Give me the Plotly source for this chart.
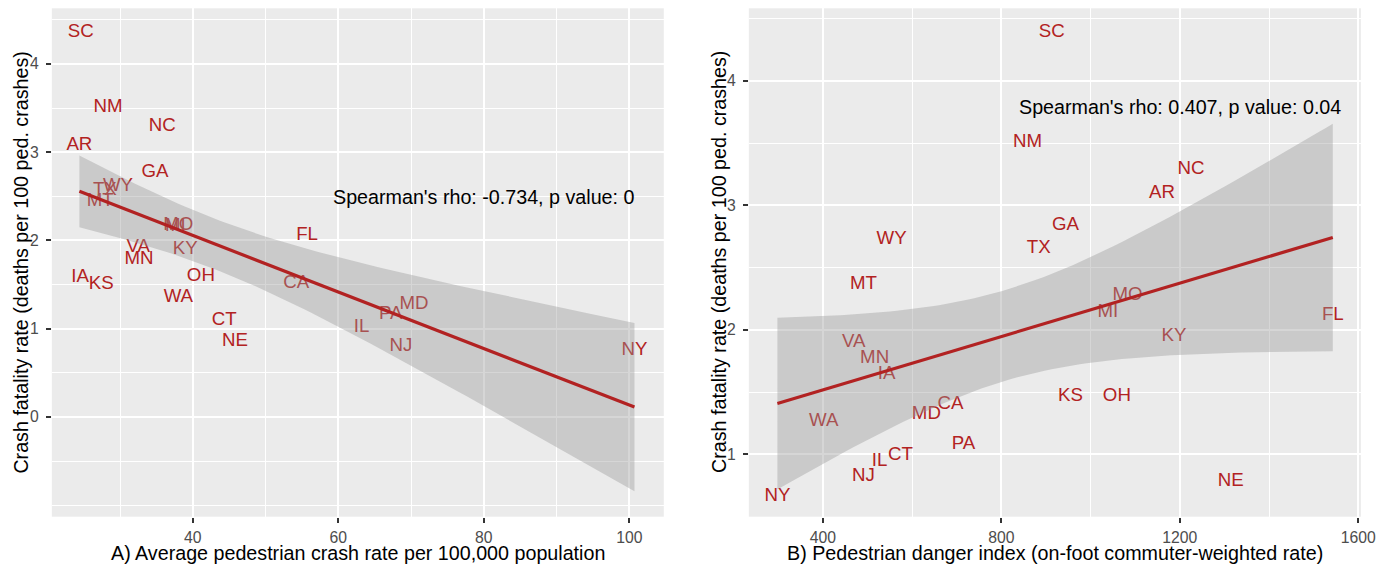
import numpy as np
import plotly.graph_objects as go

# ---------------- data ----------------
states = ["SC", "NM", "NC", "AR", "GA", "WY", "TX", "MT", "MO", "MI",
          "VA", "KY", "MN", "FL", "IA", "KS", "OH", "CA", "WA", "CT",
          "NE", "MD", "PA", "IL", "NJ", "NY"]

# Panel A: average pedestrian crash rate per 100,000 population
crash_rate = [24.6, 28.35, 35.8, 24.4, 34.8, 29.7, 27.9, 27.25, 38.0, 37.6,
              32.5, 38.95, 32.6, 55.7, 24.5, 27.4, 41.1, 54.2, 38.0, 44.3,
              45.8, 70.4, 67.2, 63.2, 68.6, 100.7]
fatality_a = [4.36, 3.505, 3.297, 3.074, 2.768, 2.618, 2.564, 2.44, 2.17, 2.155,
              1.923, 1.90, 1.787, 2.062, 1.583, 1.504, 1.59, 1.51, 1.36, 1.091,
              0.861, 1.28, 1.167, 1.012, 0.797, 0.751]

# Panel B: pedestrian danger index (on-foot commuter-weighted rate)
danger_index = [913, 859, 1225, 1160, 944, 554, 884, 491, 1083, 1039,
                469, 1187, 516, 1543, 543, 955, 1059, 686, 402, 574,
                1314, 632, 715, 527, 491, 298]
fatality_b = [4.391, 3.504, 3.290, 3.098, 2.840, 2.728, 2.656, 2.369, 2.275, 2.138,
              1.897, 1.951, 1.768, 2.120, 1.643, 1.463, 1.469, 1.402, 1.268, 0.989,
              0.785, 1.321, 1.083, 0.941, 0.820, 0.665]

ticks_a_x = [40, 60, 80, 100]
ticks_a_y = [0, 1, 2, 3, 4]
ticks_b_x = [400, 800, 1200, 1600]
ticks_b_y = [1, 2, 3, 4]

label_a = "Spearman's rho: -0.734, p value: 0"
label_b = "Spearman's rho: 0.407, p value: 0.04"

x_title_a = "A) Average pedestrian crash rate per 100,000 population"
x_title_b = "B) Pedestrian danger index (on-foot commuter-weighted rate)"
y_title = "Crash fatality rate (deaths per 100 ped. crashes)"

T_CRIT = 2.0639  # t quantile 0.975, df = 24


def lm_band(x, y, n_grid=80):
    x = np.asarray(x, float)
    y = np.asarray(y, float)
    n = len(x)
    slope, intercept = np.polyfit(x, y, 1)
    resid = y - (slope * x + intercept)
    s = np.sqrt(np.sum(resid ** 2) / (n - 2))
    sxx = np.sum((x - x.mean()) ** 2)
    grid = np.linspace(x.min(), x.max(), n_grid)
    pred = slope * grid + intercept
    se = s * np.sqrt(1.0 / n + (grid - x.mean()) ** 2 / sxx)
    return grid, pred, pred - T_CRIT * se, pred + T_CRIT * se


RED = "#B22222"
FONT = "Liberation Sans, Arial, sans-serif"
OFF = 8                 # default body margin of the page
SX = 1406.0 / 1390.0    # horizontal compensation observed in the capture
W, H = 1390, 560
FS = 1.01               # font compensation

fig = go.Figure()

panels = [
    (crash_rate, fatality_a, "x", "y"),
    (danger_index, fatality_b, "x2", "y2"),
]
for xs, ys, xa, ya in panels:
    fig.add_trace(go.Scatter(
        x=xs, y=ys, text=states, mode="text", xaxis=xa, yaxis=ya,
        textfont=dict(color=RED, size=18.5 * FS, family=FONT),
        textposition="middle center", hoverinfo="skip", showlegend=False))
    g, p, lo, hi = lm_band(xs, ys)
    fig.add_trace(go.Scatter(
        x=np.concatenate([g, g[::-1]]), y=np.concatenate([hi, lo[::-1]]),
        mode="lines", fill="toself", fillcolor="rgba(153,153,153,0.4)",
        line=dict(width=0), xaxis=xa, yaxis=ya, hoverinfo="skip", showlegend=False))
    fig.add_trace(go.Scatter(
        x=g, y=p, mode="lines", line=dict(color=RED, width=3.2),
        xaxis=xa, yaxis=ya, hoverinfo="skip", showlegend=False))


def px_x(v):
    return (v * SX - OFF) / W


def px_y(v):
    return (OFF + H - v) / H


axis_common = dict(
    showgrid=True, gridcolor="white", gridwidth=2, zeroline=False,
    showline=False, ticks="outside", ticklen=5, tickwidth=1.5, tickcolor="#333333",
    tickfont=dict(size=15.6 * FS, color="#4D4D4D", family=FONT),
    tickmode="array",
)
x_common = dict(ticklabelstandoff=1, **axis_common)
y_common = dict(ticklabelstandoff=4, **axis_common)


def minor(d):
    return dict(tickmode="linear", tick0=0, dtick=d, showgrid=True,
                gridcolor="white", gridwidth=1, ticks="")


y_dom = [px_y(516.7), px_y(8.3)]

fig.update_layout(
    width=W, height=H,
    margin=dict(l=0, r=0, t=0, b=0),
    paper_bgcolor="white", plot_bgcolor="#EBEBEB",
    xaxis=dict(domain=[px_x(51.7), px_x(663.3)], range=[20.61, 104.73],
               tickvals=ticks_a_x, anchor="y", minor=minor(10), **x_common),
    yaxis=dict(domain=y_dom, range=[-1.13, 4.631],
               tickvals=ticks_a_y, anchor="x", minor=minor(0.5), **y_common),
    xaxis2=dict(domain=[px_x(748.3), px_x(1360)], range=[234, 1606],
                tickvals=ticks_b_x, anchor="y2", minor=minor(200), **x_common),
    yaxis2=dict(domain=y_dom, range=[0.4985, 4.584],
                tickvals=ticks_b_y, anchor="x2", minor=minor(0.5), **y_common),
    showlegend=False,
)

title_font = dict(size=19.5 * FS, color="black", family=FONT)
annos = [
    dict(x=80, y=2.49, xref="x", yref="y", text=label_a, showarrow=False, font=title_font),
    dict(x=1200, y=3.79, xref="x2", yref="y2", text=label_b, showarrow=False, font=title_font),
    dict(x=px_x(357.5), y=px_y(553), xref="paper", yref="paper", text=x_title_a,
         showarrow=False, xanchor="center", yanchor="middle", font=title_font),
    dict(x=px_x(1054), y=px_y(553), xref="paper", yref="paper", text=x_title_b,
         showarrow=False, xanchor="center", yanchor="middle", font=title_font),
    dict(x=px_x(20), y=px_y(262.5), xref="paper", yref="paper", text=y_title,
         showarrow=False, textangle=-90, xanchor="center", yanchor="middle", font=title_font),
    dict(x=px_x(718), y=px_y(262.5), xref="paper", yref="paper", text=y_title,
         showarrow=False, textangle=-90, xanchor="center", yanchor="middle", font=title_font),
]
fig.update_layout(annotations=annos)

fig.write_html("out.html", config={"displayModeBar": False})
